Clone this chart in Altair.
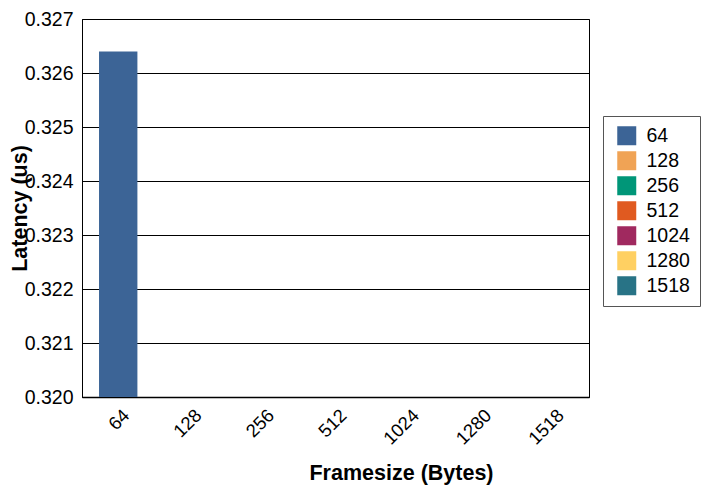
import altair as alt
import pandas as pd

framesizes = ["64", "128", "256", "512", "1024", "1280", "1518"]
latency = [0.3264, 0.3200, 0.3200, 0.3200, 0.3200, 0.3200, 0.3200]
colors = ["#3c6496", "#f0a355", "#009678", "#e05a20", "#a0295f", "#ffd062", "#287386"]
y_ticks = [0.320, 0.321, 0.322, 0.323, 0.324, 0.325, 0.326, 0.327]

df = pd.DataFrame({"Framesize": framesizes, "Latency": latency})

chart = alt.Chart(df).mark_bar(clip=True).encode(
    x=alt.X("Framesize:N", sort=framesizes,
            scale=alt.Scale(paddingInner=0.47, paddingOuter=0.235),
            axis=alt.Axis(title="Framesize (Bytes)", labelAngle=-45, labelAlign="right",
                          labelBaseline="middle", labelPadding=15, labelOffset=8, ticks=False,
                          labelFont="Liberation Sans", labelFontSize=18.5, labelColor="black",
                          titleFont="Liberation Sans", titleFontSize=21.5, titleFontWeight="bold",
                          titleColor="black", titleX=319, titleY=76, titleBaseline="middle",
                          domainColor="black", domainWidth=1.5)),
    y=alt.Y("Latency:Q", scale=alt.Scale(domain=[0.320, 0.327], zero=False, nice=False),
            axis=alt.Axis(title="Latency (us)", values=y_ticks, format=".3f", ticks=False,
                          grid=True, gridColor="black", gridOpacity=1, gridWidth=1,
                          labelFont="Liberation Sans", labelFontSize=19.5, labelColor="black",
                          labelPadding=9,
                          titleFont="Liberation Sans", titleFontSize=21.5, titleFontWeight="bold",
                          titleColor="black", titleX=-62, titleBaseline="middle",
                          domainColor="black")),
    color=alt.Color("Framesize:N", sort=framesizes,
                    scale=alt.Scale(domain=framesizes, range=colors),
                    legend=alt.Legend(title=None, orient="none", legendX=521, legendY=97,
                                      symbolType="square", symbolSize=361, symbolStrokeWidth=0,
                                      symbolOffset=4,
                                      labelFont="Liberation Sans", labelFontSize=19.5,
                                      labelOffset=10,
                                      labelExpr="datum.label + '\u00a0\u00a0\u00a0\u00a0\u00a0\u00a0\u00a0\u00a0\u00a0'",
                                      labelColor="black", strokeColor="#555555",
                                      padding=10, rowPadding=4, fillColor="white",
                                      symbolOpacity=1)),
).properties(
    width=507, height=378,
    autosize=alt.AutoSizeParams(type="none"),
    padding={"left": 74, "top": 11, "right": 116, "bottom": 88},
).configure_view(stroke="black", strokeWidth=1)

chart.save("out.html", embed_options={"renderer": "svg", "actions": False})
